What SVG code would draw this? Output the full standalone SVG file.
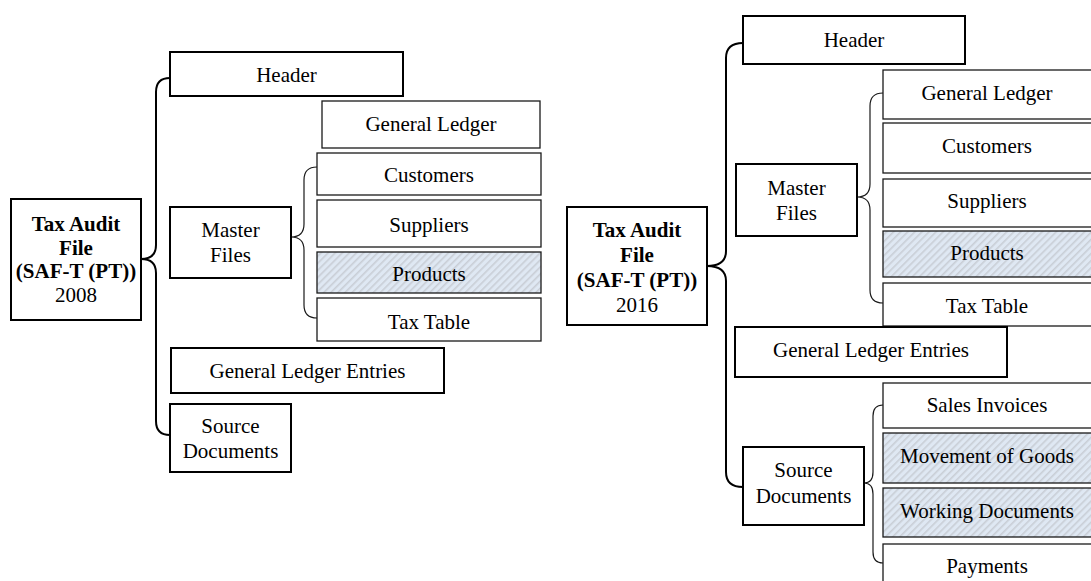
<svg xmlns="http://www.w3.org/2000/svg" width="1091" height="581" viewBox="0 0 1091 581">
<defs>
<pattern id="hatch" width="5" height="5" patternUnits="userSpaceOnUse" patternTransform="rotate(45)">
<rect width="5" height="5" fill="#dfe8f3"/>
<rect width="1.6" height="5" fill="#c9ced6"/>
</pattern>
<style>
text{font-family:"Liberation Serif","Times New Roman",serif;font-size:21px;fill:#000;text-anchor:middle}
.b{font-weight:bold}
.main{fill:#fff;stroke:#000;stroke-width:2}
.sub{fill:#fff;stroke:#1a1a1a;stroke-width:1.3}
.hat{fill:url(#hatch);stroke:#1a1a1a;stroke-width:1.3}
.br{fill:none;stroke:#000;stroke-width:2}
.brs{fill:none;stroke:#1a1a1a;stroke-width:1.2}
</style>
</defs>
<rect width="1091" height="581" fill="#fff"/>
<g id="connectors">
<path class="br" d="M170,78 Q156,78 156,92 L156,245 Q156,259 141,259 Q156,259 156,273 L156,421 Q156,435 170,435"/>
<path class="brs" d="M317,167 Q304,167 304,180 L304,224 Q304,237 291,237 Q304,237 304,250 L304,305 Q304,318 317,318"/>
<path class="br" d="M743,43 Q726,43 726,58 L726,251 Q726,266 707,266 Q726,266 726,281 L726,472 Q726,487 743,487"/>
<path class="brs" d="M883,93 Q870,93 870,106 L870,184 Q870,197 857,197 Q870,197 870,210 L870,290 Q870,303 883,303"/>
<path class="brs" d="M883,405 Q873,405 873,416 L873,472 Q873,483 864,483 Q873,483 873,494 L873,552 Q873,563 883,563"/>
</g>
<g id="root2008"><rect class="main" x="11" y="199" width="130" height="121"/>
<text class="b" x="76" y="231">Tax Audit</text><text class="b" x="76" y="255">File</text><text class="b" x="76" y="278">(SAF-T (PT))</text><text x="76" y="302">2008</text></g>
<g id="header2008"><rect class="main" x="170" y="52" width="233" height="44"/><text x="286.5" y="82">Header</text></g>
<g id="master2008"><rect class="main" x="170" y="207" width="121" height="71"/><text x="230.5" y="237">Master</text><text x="230.5" y="262">Files</text></g>
<g id="gl2008"><rect class="sub" x="322" y="101" width="218" height="47"/><text x="431" y="131">General Ledger</text></g>
<g id="customers2008"><rect class="sub" x="317" y="153" width="224" height="42"/><text x="429" y="182">Customers</text></g>
<g id="suppliers2008"><rect class="sub" x="317" y="200" width="224" height="47"/><text x="429" y="232">Suppliers</text></g>
<g id="products2008"><rect class="hat" x="317" y="252" width="224" height="41"/><text x="429" y="281">Products</text></g>
<g id="taxtable2008"><rect class="sub" x="317" y="298" width="224" height="43"/><text x="429" y="329">Tax Table</text></g>
<g id="gle2008"><rect class="main" x="171" y="348" width="273" height="45"/><text x="307.5" y="378">General Ledger Entries</text></g>
<g id="source2008"><rect class="main" x="170" y="404" width="121" height="68"/><text x="230.5" y="433">Source</text><text x="230.5" y="458">Documents</text></g>

<g id="root2016"><rect class="main" x="567" y="207" width="140" height="118"/>
<text class="b" x="637" y="237">Tax Audit</text><text class="b" x="637" y="262">File</text><text class="b" x="637" y="287">(SAF-T (PT))</text><text x="637" y="312">2016</text></g>
<g id="header2016"><rect class="main" x="743" y="16" width="222" height="48"/><text x="854" y="47">Header</text></g>
<g id="master2016"><rect class="main" x="736" y="164" width="121" height="72"/><text x="796.5" y="195">Master</text><text x="796.5" y="220">Files</text></g>
<g id="gl2016"><rect class="sub" x="883" y="70" width="212" height="49"/><text x="987" y="100">General Ledger</text></g>
<g id="customers2016"><rect class="sub" x="883" y="123" width="212" height="50"/><text x="987" y="153">Customers</text></g>
<g id="suppliers2016"><rect class="sub" x="883" y="179" width="212" height="48"/><text x="987" y="208">Suppliers</text></g>
<g id="products2016"><rect class="hat" x="883" y="231" width="212" height="46"/><text x="987" y="260">Products</text></g>
<g id="taxtable2016"><rect class="sub" x="883" y="283" width="212" height="43"/><text x="987" y="313">Tax Table</text></g>
<g id="gle2016"><rect class="main" x="735" y="327" width="272" height="50"/><text x="871" y="357">General Ledger Entries</text></g>
<g id="sales2016"><rect class="sub" x="883" y="383" width="212" height="45"/><text x="987" y="412">Sales Invoices</text></g>
<g id="movement2016"><rect class="hat" x="883" y="433" width="212" height="50"/><text x="987" y="463">Movement of Goods</text></g>
<g id="working2016"><rect class="hat" x="883" y="488" width="212" height="49"/><text x="987" y="518">Working Documents</text></g>
<g id="payments2016"><rect class="sub" x="883" y="544" width="212" height="50"/><text x="987" y="573">Payments</text></g>
<g id="source2016"><rect class="main" x="743" y="447" width="121" height="78"/><text x="803.5" y="477">Source</text><text x="803.5" y="503">Documents</text></g>
</svg>
